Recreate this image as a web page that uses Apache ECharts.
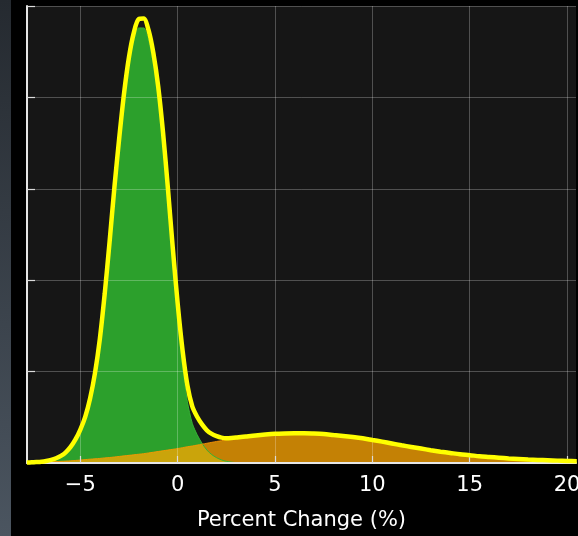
<!DOCTYPE html>
<html>
<head>
<meta charset="utf-8">
<script src="https://cdn.jsdelivr.net/npm/echarts@6/dist/echarts.min.js"></script>
<style>
  html, body { margin: 0; padding: 0; background: #000; }
  #chart { width: 578px; height: 536px; }
</style>
</head>
<body>
<div id="chart"></div>
<script>
// Sample positions (percent change) shared by both density curves:
// quarter steps up to 4, half steps beyond
const xValues = [
  -7.75, -7.5, -7.25, -7, -6.75, -6.5, -6.25, -6, -5.75, -5.5, -5.25, -5, -4.75, -4.5, -4.25, -4,
  -3.75, -3.5, -3.25, -3, -2.75, -2.5, -2.25, -2, -1.75, -1.5, -1.25, -1, -0.75, -0.5, -0.25, 0,
  0.25, 0.5, 0.75, 1, 1.25, 1.5, 1.75, 2, 2.25, 2.5, 2.75, 3, 3.25, 3.5, 3.75, 4,
  4.5, 5, 5.5, 6, 6.5, 7, 7.5, 8, 8.5, 9, 9.5, 10, 10.5, 11, 11.5, 12,
  12.5, 13, 13.5, 14, 14.5, 15, 15.5, 16, 16.5, 17, 17.5, 18, 18.5, 19, 19.5, 20, 20.5
];

// Narrow component (green), density
const greenDensity = [
  0.00004, 0.00007, 0.00014, 0.00029, 0.00055, 0.0010, 0.0018, 0.0030, 0.0048, 0.0076, 0.0115, 0.0167, 0.0234, 0.0332, 0.0468, 0.0652,
  0.0896, 0.1178, 0.1475, 0.1745, 0.1988, 0.2180, 0.2311, 0.2380, 0.2380, 0.2314, 0.2184, 0.1996, 0.1738, 0.1429, 0.1099, 0.0793,
  0.0533, 0.0335, 0.0217, 0.0155, 0.0108, 0.0071, 0.0046, 0.0029, 0.0017, 0.0009, 0.0005, 0.0002, 0.0001, 0.00004, 0.00001, 0,
  0, 0, 0, 0, 0, 0, 0, 0, 0, 0, 0, 0, 0, 0, 0, 0,
  0, 0, 0, 0, 0, 0, 0, 0, 0, 0, 0, 0, 0, 0, 0, 0, 0
];

// Broad component (orange), density
const orangeDensity = [
  0.0002, 0.0003, 0.00035, 0.0004, 0.00055, 0.0007, 0.0008, 0.0009, 0.00105, 0.0012, 0.0014, 0.0016, 0.00185, 0.0021, 0.0023, 0.0025,
  0.0028, 0.0030, 0.0033, 0.0036, 0.0039, 0.0042, 0.0045, 0.0048, 0.0051, 0.0055, 0.0059, 0.0063, 0.0067, 0.0071, 0.0075, 0.0079,
  0.0084, 0.0089, 0.0093, 0.0098, 0.0103, 0.0108, 0.0113, 0.0118, 0.0122, 0.0127, 0.0132, 0.0137, 0.0141, 0.0144, 0.0148, 0.0151,
  0.0156, 0.0160, 0.0162, 0.0163, 0.0163, 0.0161, 0.0158, 0.0153, 0.0148, 0.0142, 0.0135, 0.0126, 0.0117, 0.0107, 0.0097, 0.0088,
  0.0079, 0.0070, 0.0062, 0.0055, 0.0048, 0.0043, 0.0037, 0.0033, 0.0029, 0.0025, 0.0022, 0.0019, 0.0017, 0.0015, 0.0013, 0.0011, 0.0010
];

const xTickValues = [-5, 0, 5, 10, 15, 20];
const xAxisTitle = 'Percent Change (%)';

// Combined density = sum of the two components
const totalDensity = greenDensity.map((g, i) => g + orangeDensity[i]);

const toPairs = arr => xValues.map((x, i) => [x, arr[i]]);
const FONT = 'DejaVu Sans';
const GRID_COLOR = 'rgba(255,255,255,0.25)';

const chart = echarts.init(document.getElementById('chart'), null, { renderer: 'canvas' });

chart.setOption({
  animation: false,
  backgroundColor: '#000',
  graphic: [{
    type: 'rect',
    left: 0, top: 0, z: 0,
    shape: { width: 11, height: 536 },
    style: {
      fill: new echarts.graphic.LinearGradient(0, 0, 0, 1, [
        { offset: 0, color: '#252a30' },
        { offset: 1, color: '#4b5560' }
      ])
    }
  }],
  grid: {
    left: 27, right: 2, top: 6, bottom: 73,
    show: true, backgroundColor: '#161616', borderWidth: 0,
    containLabel: false, outerBoundsMode: 'none'
  },
  xAxis: {
    type: 'value',
    min: -7.74, max: 20.46,
    z: 3,
    axisLine: { show: true, onZero: false, lineStyle: { color: '#e6e6e6', width: 2 } },
    axisTick: {
      show: true, inside: true, length: 7, customValues: xTickValues,
      lineStyle: { color: '#dcdcdc', width: 1.2 }
    },
    axisLabel: {
      customValues: xTickValues,
      color: '#ffffff', fontSize: 21, fontFamily: FONT, margin: 12,
      formatter: v => String(v).replace('-', '\u2212')
    },
    splitLine: { show: true, lineStyle: { color: GRID_COLOR, width: 1 } },
    name: xAxisTitle,
    nameLocation: 'middle',
    nameGap: 47,
    nameTextStyle: { color: '#ffffff', fontSize: 21, fontFamily: FONT }
  },
  yAxis: {
    type: 'value',
    min: 0, max: 0.25, interval: 0.05,
    z: 3,
    axisLine: { show: true, onZero: false, lineStyle: { color: '#e6e6e6', width: 2 } },
    axisTick: { show: true, inside: true, length: 8, lineStyle: { color: '#dcdcdc', width: 1.2 } },
    axisLabel: { show: false },
    splitLine: { show: true, lineStyle: { color: GRID_COLOR, width: 1 } }
  },
  series: [
    {
      name: 'green',
      type: 'line',
      data: toPairs(greenDensity),
      smooth: 0.3,
      symbol: 'none',
      z: 2,
      lineStyle: { color: '#36b236', width: 1 },
      areaStyle: { color: '#2ca02c', opacity: 1 }
    },
    {
      name: 'orange',
      type: 'line',
      data: toPairs(orangeDensity),
      smooth: 0.3,
      symbol: 'none',
      z: 2,
      lineStyle: { color: 'rgba(255,150,0,0.85)', width: 1 },
      areaStyle: { color: '#ffa500', opacity: 0.75 }
    },
    {
      name: 'total',
      type: 'line',
      data: toPairs(totalDensity),
      smooth: 0.3,
      symbol: 'none',
      z: 5,
      lineStyle: { color: '#ffff00', width: 4.5 }
    }
  ]
});
</script>
</body>
</html>
